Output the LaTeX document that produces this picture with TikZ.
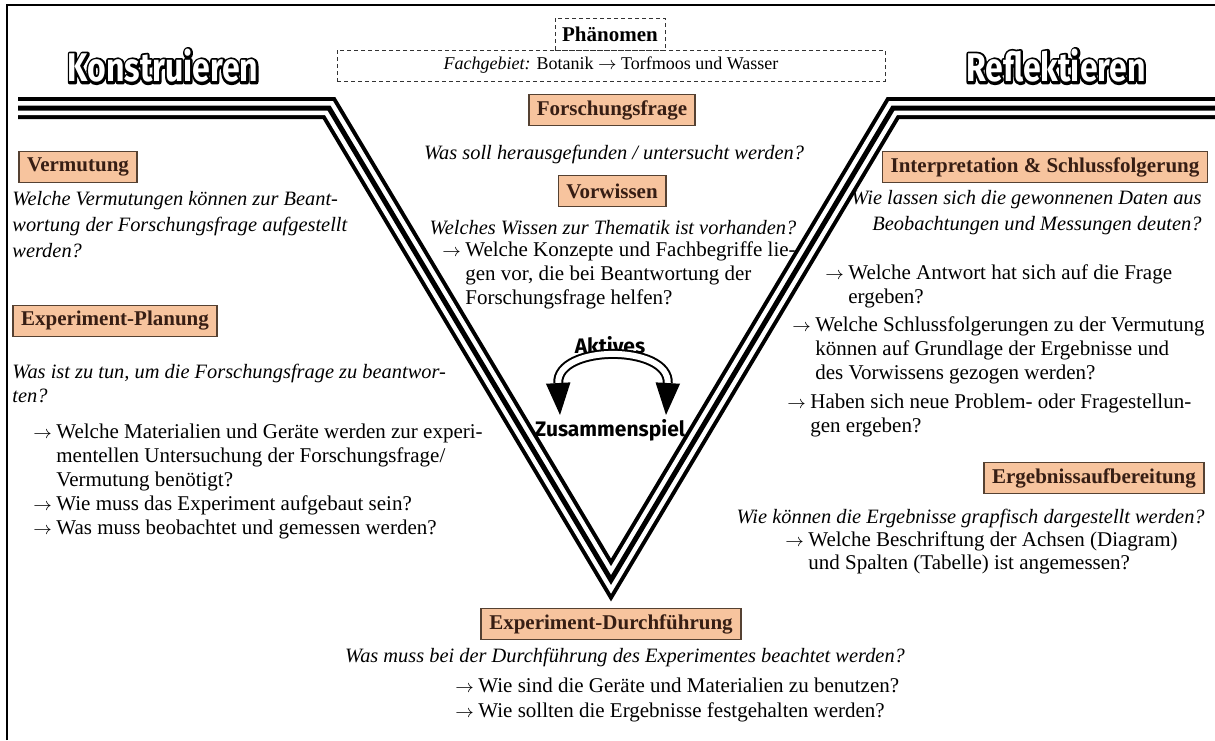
\documentclass[tikz,border=0pt]{standalone}
\usepackage{fontspec}
\setmainfont{Liberation Serif}
\newfontfamily\titelfont{Fira Sans}
\usetikzlibrary{arrows.meta,positioning}
\definecolor{boxfill}{RGB}{247,196,158}
\definecolor{boxline}{RGB}{85,65,50}
\definecolor{boxtext}{RGB}{55,30,20}
\newcommand{\pf}{\makebox[11.5pt][l]{\small$\rightarrow$}}
\newcommand{\ein}{\hspace*{11.5pt}}
\newcommand{\umriss}[1]{\rlap{\special{pdf:literal direct 1 Tr 2.6 w 1 j 0 G}#1\special{pdf:literal direct 0 Tr}}#1}
\tikzset{
  stage/.style={draw=boxline, line width=0.8pt, fill=boxfill, text=boxtext,
    font=\bfseries\fontsize{10.5}{12}\selectfont, inner xsep=4pt, inner ysep=2pt, minimum height=15.5pt},
  frage/.style={font=\itshape\fontsize{10.2}{13}\selectfont, inner sep=0pt},
  punkt/.style={font=\fontsize{10.5}{12}\selectfont, align=left, inner sep=0pt},
  dashbox/.style={draw=black!80, dash pattern=on 2pt off 1.5pt, line width=0.4pt},
  titel/.style={text=white, font=\titelfont\bfseries\fontsize{20}{23}\selectfont},
  spiel/.style={font=\titelfont\bfseries\fontsize{10.5}{12}\selectfont, inner sep=0pt}
}
\begin{document}
\begin{tikzpicture}[x=0.5pt, y=-0.5pt]
\useasboundingbox (0,0) rectangle (1215,740);
% Frame
\draw[line width=1pt] (7,740) -- (7,5) -- (1215,5);
% V band
\coordinate (v1) at (18,108);
\coordinate (v2) at (329,108);
\coordinate (v3) at (611,580);
\coordinate (v4) at (893,108);
\coordinate (v5) at (1215,108);
\foreach \w/\c in {11pt/black, 7pt/white, 2.5pt/black} {
  \draw[line width=\w, \c, line join=miter] (v1) -- (v2) -- (v3) -- (v4) -- (v5);
}
% Titles
\node[titel] (konstruieren) at (163,66) {\scalebox{0.8}[1]{\umriss{Konstruieren}}};
\node[titel] (reflektieren) at (1056,66) {\scalebox{0.8}[1]{\umriss{Reflektieren}}};
% Phaenomen
\node[dashbox, minimum width=274pt, minimum height=15.5pt, font=\fontsize{9}{11}\selectfont] (fachgebiet) at (611,65.5)
  {\textit{Fachgebiet:} Botanik $\rightarrow$ Torfmoos und Wasser};
\node[dashbox, minimum width=55pt, minimum height=16pt, font=\bfseries\fontsize{10.5}{12}\selectfont] (phaenomen) at (610,34) {Phänomen};
% Center column
\node[stage] (forschung) at (612,110) {Forschungsfrage};
\node[frage] (forschText) at (614,154) {Was soll herausgefunden / untersucht werden?};
\node[stage] (vorwissen) at (612,191) {Vorwissen};
\node[frage] (vorText) at (613,228) {Welches Wissen zur Thematik ist vorhanden?};
\node[punkt, anchor=north west] (konzepte) at (442,241)
  {\pf Welche Konzepte und Fachbegriffe lie-\\\ein gen vor, die bei Beantwortung der\\\ein Forschungsfrage helfen?};
% Aktives Zusammenspiel
\node[spiel] (aktives) at (610,345) {Aktives};
\node[spiel] (zusammen) at (610,430) {Zusammenspiel};
\coordinate (arcL) at (560,415);
\coordinate (arcR) at (666,415);
\draw[line width=1pt, double=white, double distance=3pt,
  {Triangle[length=16pt,width=12pt]}-{Triangle[length=16pt,width=12pt]}]
  (arcL) .. controls (556,344) and (670,344) .. (arcR);
% Left column
\node[stage] (vermutung) at (78,167) {Vermutung};
\node[frage, anchor=north west, align=left] (vermText) at (12,191)
  {Welche Vermutungen können zur Beant-\\wortung der Forschungsfrage aufgestellt\\werden?};
\node[stage] (planung) at (115,321) {Experiment-Planung};
\node[frage, anchor=north west, align=left, font=\itshape\fontsize{10.2}{12}\selectfont] (planText) at (12,364)
  {Was ist zu tun, um die Forschungsfrage zu beantwor-\\ten?};
\node[punkt, anchor=north west] (material) at (33,424)
  {\pf Welche Materialien und Geräte werden zur experi-\\\ein mentellen Untersuchung der Forschungsfrage/\\\ein Vermutung benötigt?\\\pf Wie muss das Experiment aufgebaut sein?\\\pf Was muss beobachtet und gemessen werden?};
% Right column
\node[stage] (interpretation) at (1045,167) {Interpretation \& Schlussfolgerung};
\node[frage, anchor=north east, align=right] (interpText) at (1202,190)
  {Wie lassen sich die gewonnenen Daten aus\\Beobachtungen und Messungen deuten?};
\node[punkt, anchor=north west] (antwort) at (825,264)
  {\pf Welche Antwort hat sich auf die Frage\\\ein ergeben?};
\node[punkt, anchor=north west] (schluss) at (792,316)
  {\pf Welche Schlussfolgerungen zu der Vermutung\\\ein können auf Grundlage der Ergebnisse und\\\ein des Vorwissens gezogen werden?};
\node[punkt, anchor=north west] (problem) at (787,394)
  {\pf Haben sich neue Problem- oder Fragestellun-\\\ein gen ergeben?};
\node[stage] (aufbereitung) at (1094,478) {Ergebnissaufbereitung};
\node[frage, anchor=east] (aufbText) at (1205,518) {Wie können die Ergebnisse grapfisch dargestellt werden?};
\node[punkt, anchor=north west, font=\fontsize{10.5}{11.5}\selectfont] (achsen) at (785,531)
  {\pf Welche Beschriftung der Achsen (Diagram)\\\ein und Spalten (Tabelle) ist angemessen?};
% Bottom
\node[stage] (durchfuehrung) at (611,624) {Experiment-Durchführung};
\node[frage] (durchText) at (625,657) {Was muss bei der Durchführung des Experimentes beachtet werden?};
\node[punkt, anchor=north west, font=\fontsize{10.5}{12.5}\selectfont] (geraete) at (455,678)
  {\pf Wie sind die Geräte und Materialien zu benutzen?\\\pf Wie sollten die Ergebnisse festgehalten werden?};
\end{tikzpicture}
\end{document}
